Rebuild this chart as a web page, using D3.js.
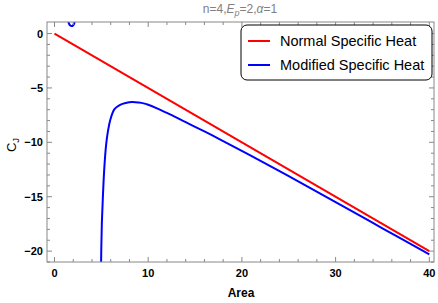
<!DOCTYPE html>
<html><head><meta charset="utf-8">
<script src="https://cdn.jsdelivr.net/npm/d3@7"></script>
<style>body{margin:0;background:#fff}svg{display:block}text{font-family:"Liberation Sans",Arial,sans-serif}</style>
</head><body><svg id="c" width="438" height="303"></svg>
<script>
const normalX = [0, 40];
const normalY = [0, -20];
const modX = [4.97, 5.0, 5.05, 5.15, 5.3, 5.5, 5.7, 5.95, 6.4, 7.0, 7.6, 8.3, 9.0, 9.5, 10, 11, 12, 14, 16, 18, 20.7, 25, 30, 35, 40];
const modY = [-21.2, -19.5, -17.5, -15.3, -12.6, -10.3, -9.0, -7.95, -6.95, -6.55, -6.38, -6.3, -6.35, -6.42, -6.55, -6.9, -7.3, -8.15, -9.0, -9.88, -11.1, -13.1, -15.5, -17.9, -20.3];
const loopX = [1.45, 1.55, 1.68, 1.82, 1.96, 2.08, 2.18];
const loopY = [1.2, 0.9, 0.74, 0.69, 0.73, 0.88, 1.2];
const xMajor = [0, 10, 20, 30, 40];
const yMajor = [0, -5, -10, -15, -20];
const seriesNames = ["Normal Specific Heat", "Modified Specific Heat"];
const colors = ["#ff0000", "#0000ff"];

const svg = d3.select("#c");
const L = 47, R = 434, T = 22, B = 262;
const x = d3.scaleLinear().domain([-0.8, 40.5]).range([L, R]);
const y = d3.scaleLinear().domain([1.06, -21.0]).range([T, B]);

svg.append("defs").append("clipPath").attr("id","clip").append("rect")
  .attr("x", L).attr("y", T).attr("width", R-L).attr("height", B-T);

const g = svg.append("g").attr("clip-path","url(#clip)");
const line = d3.line().x(d=>x(d[0])).y(d=>y(d[1]));
g.append("path").datum(normalX.map((v,i)=>[v, normalY[i]]))
  .attr("d", line).attr("fill","none").attr("stroke",colors[0]).attr("stroke-width",2);
const cl = d3.line().x(d=>x(d[0])).y(d=>y(d[1])).curve(d3.curveCatmullRom);
g.append("path").datum(modX.map((v,i)=>[v, modY[i]]))
  .attr("d", cl).attr("fill","none").attr("stroke",colors[1]).attr("stroke-width",2);
g.append("path").datum(loopX.map((v,i)=>[v, loopY[i]]))
  .attr("d", cl).attr("fill","none").attr("stroke",colors[1]).attr("stroke-width",2);

// frame
const fc = "#888";
svg.append("rect").attr("x",L).attr("y",T).attr("width",R-L).attr("height",B-T)
  .attr("fill","none").attr("stroke",fc).attr("stroke-width",1);

const xMinor = d3.range(0, 41, 2).filter(v => !xMajor.includes(v));
const yMinor = d3.range(0, -22, -1).filter(v => !yMajor.includes(v));
const tk = svg.append("g").attr("stroke", fc).attr("stroke-width",1);
xMajor.forEach(v=>{ const px=x(v);
  tk.append("line").attr("x1",px).attr("x2",px).attr("y1",B).attr("y2",B-5);
  tk.append("line").attr("x1",px).attr("x2",px).attr("y1",T).attr("y2",T+5);});
xMinor.forEach(v=>{ const px=x(v);
  tk.append("line").attr("x1",px).attr("x2",px).attr("y1",B).attr("y2",B-3);
  tk.append("line").attr("x1",px).attr("x2",px).attr("y1",T).attr("y2",T+3);});
yMajor.forEach(v=>{ const py=y(v);
  tk.append("line").attr("x1",L).attr("x2",L+5).attr("y1",py).attr("y2",py);
  tk.append("line").attr("x1",R).attr("x2",R-5).attr("y1",py).attr("y2",py);});
yMinor.forEach(v=>{ const py=y(v);
  tk.append("line").attr("x1",L).attr("x2",L+3).attr("y1",py).attr("y2",py);
  tk.append("line").attr("x1",R).attr("x2",R-3).attr("y1",py).attr("y2",py);});

svg.append("g").selectAll("text").data(xMajor).join("text")
  .attr("x", d=>x(d)).attr("y", B+15).attr("text-anchor","middle")
  .attr("font-size",11).attr("font-weight","bold").text(d=>d);
svg.append("g").selectAll("text").data(yMajor).join("text")
  .attr("x", L-4).attr("y", d=>y(d)+4).attr("text-anchor","end")
  .attr("font-size",11).attr("font-weight","bold").text(d=> d<0 ? "\u2212"+(-d) : d);

svg.append("text").attr("x", 241).attr("y", 297).attr("text-anchor","middle")
  .attr("font-size",12).attr("font-weight","bold").text("Area");

const yl = svg.append("text").attr("transform","translate(16,145) rotate(-90)")
  .attr("text-anchor","middle").attr("font-size",13);
yl.append("tspan").text("C");
yl.append("tspan").attr("font-size",9.5).attr("dy",3).text("J");

const tt = svg.append("text").attr("x", 240).attr("y", 13).attr("text-anchor","middle")
  .attr("font-size",12).attr("fill","#808080");
tt.append("tspan").text("n=4,");
tt.append("tspan").attr("font-style","italic").text("E");
tt.append("tspan").attr("font-size",9).attr("dy",3).attr("font-style","italic").text("p");
tt.append("tspan").attr("dy",-3).text("=2,");
tt.append("tspan").attr("font-style","italic").text("\u03b1");
tt.append("tspan").text("=1");

const lg = svg.append("g");
lg.append("rect").attr("x",241).attr("y",25).attr("width",191).attr("height",55).attr("rx",6)
  .attr("fill","#fff").attr("stroke","#000").attr("stroke-width",1);
seriesNames.forEach((n,i)=>{
  const yy = 41 + i*24;
  lg.append("line").attr("x1",248).attr("x2",270).attr("y1",yy).attr("y2",yy)
    .attr("stroke",colors[i]).attr("stroke-width",2);
  lg.append("text").attr("x",280).attr("y",yy+5).attr("font-size",14.5).text(n);
});
</script></body></html>
